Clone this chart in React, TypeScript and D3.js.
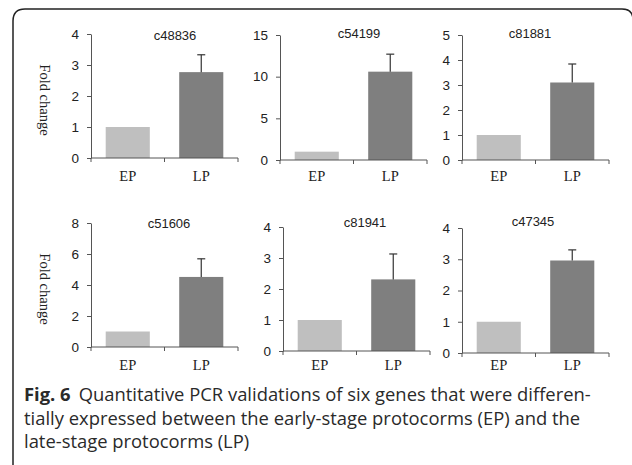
import { useEffect, useRef } from "react";
import * as d3 from "d3";

// qPCR fold change, EP set to 1 as the reference
const genes = ["c48836", "c54199", "c81881", "c51606", "c81941", "c47345"];
const groups = ["EP", "LP"];
const epValues = [1, 1, 1, 1, 1, 1];
const lpValues = [2.77, 10.6, 3.1, 4.52, 2.31, 2.96];
const lpErrors = [0.56, 2.1, 0.74, 1.17, 0.82, 0.34];
const yMax = [4, 15, 5, 8, 4, 4];
const yStep = [1, 5, 1, 2, 1, 1];
const yLabel = "Fold change";
const captionLines = [
  "Quantitative PCR validations of six genes that were differen-",
  "tially expressed between the early-stage protocorms (EP) and the",
  "late-stage protocorms (LP)",
];

// where each small chart sits on the page
const layout = [
  { x: 91, top: 34, zero: 158, titleX: 175, titleY: 40, labelY: 181 },
  { x: 280, top: 35, zero: 160, titleX: 359, titleY: 38, labelY: 181 },
  { x: 462, top: 35, zero: 160, titleX: 530, titleY: 38, labelY: 181 },
  { x: 91, top: 223, zero: 347, titleX: 169, titleY: 228, labelY: 370 },
  { x: 283, top: 227, zero: 351, titleX: 365, titleY: 227, labelY: 370 },
  { x: 462, top: 228, zero: 353, titleX: 533, titleY: 226, labelY: 370 },
];
const panelWidth = 147;

export default function App() {
  const svgRef = useRef<SVGSVGElement>(null);

  useEffect(() => {
    const svg = d3.select(svgRef.current);
    svg.selectAll("*").remove();

    // card outline
    svg
      .append("path")
      .attr("d", "M13,470V21Q13,9 25,9H622Q633,9 633,20")
      .attr("fill", "none")
      .attr("stroke", "#222")
      .attr("stroke-width", 1.5);

    genes.forEach((gene, i) => {
      const p = layout[i];
      const x = d3
        .scaleBand()
        .domain(groups)
        .range([p.x, p.x + panelWidth])
        .paddingInner(0.4)
        .paddingOuter(0.2);
      const y = d3.scaleLinear().domain([0, yMax[i]]).range([p.zero, p.top]);
      const g = svg.append("g");

      const values = [epValues[i], lpValues[i]];
      g.selectAll("rect")
        .data(groups)
        .enter()
        .append("rect")
        .attr("x", (d) => x(d)!)
        .attr("width", x.bandwidth())
        .attr("y", (_, j) => y(values[j]))
        .attr("height", (_, j) => p.zero - y(values[j]))
        .attr("fill", (d) => (d === "EP" ? "#bfbfbf" : "#7f7f7f"));

      // error bar (upper only)
      const cx = x("LP")! + x.bandwidth() / 2;
      const yErr = y(lpValues[i] + lpErrors[i]);
      g.append("line")
        .attr("x1", cx)
        .attr("x2", cx)
        .attr("y1", y(lpValues[i]))
        .attr("y2", yErr)
        .attr("stroke", "#333")
        .attr("stroke-width", 1.2);
      g.append("line")
        .attr("x1", cx - 4)
        .attr("x2", cx + 4)
        .attr("y1", yErr)
        .attr("y2", yErr)
        .attr("stroke", "#333")
        .attr("stroke-width", 1.2);

      // y axis
      const yAxis = d3
        .axisLeft(y)
        .tickValues(d3.range(0, yMax[i] + yStep[i] / 2, yStep[i]))
        .tickFormat(d3.format("d"))
        .tickSize(4)
        .tickSizeOuter(0)
        .tickPadding(8);
      const ya = g.append("g").attr("transform", `translate(${p.x},0)`).call(yAxis);
      ya.selectAll("path,line").attr("stroke", "#555");
      ya.selectAll("text")
        .attr("font-family", "'Liberation Sans', Arial, sans-serif")
        .attr("font-size", 13.5)
        .attr("fill", "#222");

      // x axis: base line with ticks at both ends and between the bars
      g.append("line")
        .attr("x1", p.x)
        .attr("x2", p.x + panelWidth)
        .attr("y1", p.zero)
        .attr("y2", p.zero)
        .attr("stroke", "#555");
      g.selectAll(".xt")
        .data([p.x, p.x + panelWidth / 2, p.x + panelWidth])
        .enter()
        .append("line")
        .attr("x1", (d) => d)
        .attr("x2", (d) => d)
        .attr("y1", p.zero)
        .attr("y2", p.zero + 4)
        .attr("stroke", "#555");
      g.selectAll(".xl")
        .data(groups)
        .enter()
        .append("text")
        .attr("x", (d) => x(d)! + x.bandwidth() / 2)
        .attr("y", p.labelY)
        .attr("text-anchor", "middle")
        .attr("font-family", "'Liberation Serif', 'Times New Roman', serif")
        .attr("font-size", 14.5)
        .attr("fill", "#222")
        .text((d) => d);

      g.append("text")
        .attr("x", p.titleX)
        .attr("y", p.titleY)
        .attr("text-anchor", "middle")
        .attr("font-family", "'Liberation Sans', Arial, sans-serif")
        .attr("font-size", 13)
        .attr("fill", "#222")
        .text(gene);

      if (i % 3 === 0) {
        const cy = (p.top + p.zero) / 2 + 4;
        g.append("text")
          .attr("transform", `translate(40,${cy}) rotate(90)`)
          .attr("text-anchor", "middle")
          .attr("font-family", "'Liberation Serif', 'Times New Roman', serif")
          .attr("font-size", 14.5)
          .attr("fill", "#222")
          .text(yLabel);
      }
    });

    // caption
    const cap = svg
      .append("g")
      .attr("font-family", "'Open Sans', 'Noto Sans', sans-serif")
      .attr("font-size", 18.4)
      .attr("fill", "#2a2a2a");
    const first = cap.append("text").attr("x", 24).attr("y", 401);
    first.append("tspan").attr("font-weight", "bold").text("Fig. 6");
    first.append("tspan").attr("dx", 8).text(captionLines[0]);
    captionLines.slice(1).forEach((line, k) => {
      cap.append("text").attr("x", 24).attr("y", 424.5 + k * 23.5).text(line);
    });
  }, []);

  return (
    <div style={{ position: "fixed", left: 0, top: 0, background: "#fff" }}>
      <svg ref={svgRef} width={632} height={465} style={{ display: "block" }} />
    </div>
  );
}
